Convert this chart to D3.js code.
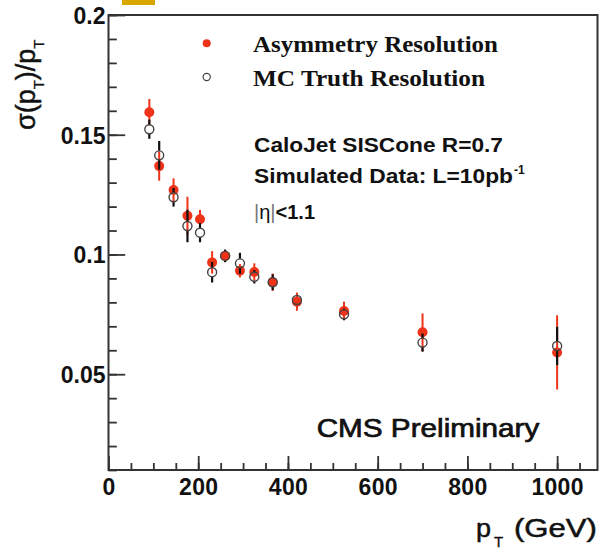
<!DOCTYPE html>
<html>
<head>
<meta charset="utf-8">
<script src="https://cdn.jsdelivr.net/npm/d3@7"></script>
<style>
  html, body { margin: 0; padding: 0; background: #fff; }
  svg { display: block; }
</style>
</head>
<body>
<svg id="chart" width="599" height="553"></svg>
<script>
// ---- data ----
const ptValues = [91, 113, 145, 176, 204, 231, 260, 293, 325, 366, 420, 525, 700, 1000];
const asymRes  = [0.1594, 0.1369, 0.1269, 0.1162, 0.1147, 0.0967, 0.0994, 0.0932, 0.0927, 0.0884, 0.0803, 0.0764, 0.0675, 0.0591];
const asymErr  = [0.0055, 0.0061, 0.0049, 0.0079, 0.0039, 0.0047, 0.0026, 0.0028, 0.0036, 0.0036, 0.0038, 0.0039, 0.0079, 0.0155];
const mcRes    = [0.1523, 0.1414, 0.1239, 0.1119, 0.1091, 0.0926, 0.0994, 0.0963, 0.0907, 0.0884, 0.0810, 0.0750, 0.0632, 0.0618];
const mcErr    = [0.0040, 0.0060, 0.0039, 0.0068, 0.0040, 0.0043, 0.0026, 0.0044, 0.0028, 0.0033, 0.0020, 0.0024, 0.0038, 0.0080];
const xMajorTicks = [0, 200, 400, 600, 800, 1000];
const yMajorTicks = [0.05, 0.1, 0.15, 0.2];
const yTickLabels = ["0.05", "0.1", "0.15", "0.2"];
const legendLabels = ["Asymmetry Resolution", "MC Truth Resolution"];

const svg = d3.select("#chart");
const L = 108.5, R = 597.5, T = 15, B = 470;
const x = d3.scaleLinear().domain([0, 1090]).range([L, R]);
const y = d3.scaleLinear().domain([0.01, 0.2]).range([B, T]);

const RED = "#ee3318";
const FRAME = "#333";
const INK = "#111";
const sans = "'Liberation Sans', Arial, Helvetica, sans-serif";
const serif = "'Liberation Serif', 'Times New Roman', serif";

// gold strip at the top
svg.append("rect").attr("x", 122).attr("y", 0).attr("width", 33).attr("height", 5).attr("fill", "#d9a600");

// ---- axes ----
const xMinor = d3.range(0, 1090, 50);
const yMinor = d3.range(1, 21).map(d => d / 100);

const gx = svg.append("g").attr("transform", `translate(0,${B})`);
gx.call(d3.axisBottom(x).tickValues(xMinor).tickSize(-7).tickFormat(""));
gx.call(g => g.select(".domain").remove());
const gx2 = svg.append("g").attr("transform", `translate(0,${B})`);
gx2.call(d3.axisBottom(x).tickValues(xMajorTicks).tickSize(-14).tickPadding(8.5).tickFormat(d3.format("d")));
gx2.call(g => g.select(".domain").remove());
gx2.selectAll("text").attr("font-family", sans).attr("font-weight", "bold")
   .attr("font-size", 23).attr("fill", INK).attr("letter-spacing", 0.3);

const gy = svg.append("g").attr("transform", `translate(${L},0)`);
gy.call(d3.axisLeft(y).tickValues(yMinor).tickSize(-8.3).tickFormat(""));
gy.call(g => g.select(".domain").remove());
const gy2 = svg.append("g").attr("transform", `translate(${L},0)`);
gy2.call(d3.axisLeft(y).tickValues(yMajorTicks).tickSize(-16.7).tickPadding(3)
   .tickFormat((d, i) => yTickLabels[i]));
gy2.call(g => g.select(".domain").remove());
gy2.selectAll("text").attr("font-family", sans).attr("font-weight", "bold")
   .attr("font-size", 23).attr("fill", INK).attr("dy", "0.36em");

svg.selectAll(".tick line").attr("stroke", FRAME).attr("stroke-width", 1.8);

// frame
svg.append("rect").attr("x", L).attr("y", T).attr("width", R - L).attr("height", B - T)
   .attr("fill", "none").attr("stroke", FRAME).attr("stroke-width", 2);

// ---- data marks ----
const idx = d3.range(ptValues.length);
const plot = svg.append("g");
const rOpen = 4.5, rFill = 5;

plot.selectAll(".errA").data(idx).join("line")
  .attr("x1", i => x(ptValues[i])).attr("x2", i => x(ptValues[i]))
  .attr("y1", i => y(asymRes[i] + asymErr[i])).attr("y2", i => y(asymRes[i] - asymErr[i]))
  .attr("stroke", RED).attr("stroke-width", 2);
plot.selectAll(".mkA").data(idx).join("circle")
  .attr("cx", i => x(ptValues[i])).attr("cy", i => y(asymRes[i])).attr("r", rFill)
  .attr("fill", RED);
idx.forEach(i => {
  const cx = x(ptValues[i]), cy = y(mcRes[i]);
  const top = y(mcRes[i] + mcErr[i]), bot = y(mcRes[i] - mcErr[i]);
  if (cy - rOpen > top) plot.append("line").attr("x1", cx).attr("x2", cx).attr("y1", top).attr("y2", cy - rOpen)
      .attr("stroke", INK).attr("stroke-width", 2.2);
  if (bot > cy + rOpen) plot.append("line").attr("x1", cx).attr("x2", cx).attr("y1", cy + rOpen).attr("y2", bot)
      .attr("stroke", INK).attr("stroke-width", 2.2);
});
plot.selectAll(".mkB").data(idx).join("circle")
  .attr("cx", i => x(ptValues[i])).attr("cy", i => y(mcRes[i])).attr("r", rOpen)
  .attr("fill", "none").attr("stroke", "#444").attr("stroke-width", 1.4);

// ---- legend ----
svg.append("circle").attr("cx", 206.7).attr("cy", 43.3).attr("r", 4).attr("fill", RED);
svg.append("circle").attr("cx", 206.7).attr("cy", 77).attr("r", 3.6).attr("fill", "none")
   .attr("stroke", "#444").attr("stroke-width", 1.2);
svg.append("text").attr("x", 253).attr("y", 51.7).attr("font-family", serif).attr("font-weight", "bold")
   .attr("font-size", 24).attr("fill", INK).attr("textLength", 245).attr("lengthAdjust", "spacingAndGlyphs")
   .text(legendLabels[0]);
svg.append("text").attr("x", 253).attr("y", 85.7).attr("font-family", serif).attr("font-weight", "bold")
   .attr("font-size", 24).attr("fill", INK).attr("textLength", 232).attr("lengthAdjust", "spacingAndGlyphs")
   .text(legendLabels[1]);

// ---- annotations ----
svg.append("text").attr("x", 254).attr("y", 151.7).attr("font-family", sans).attr("font-weight", "bold")
   .attr("font-size", 20).attr("fill", INK).attr("textLength", 249).attr("lengthAdjust", "spacingAndGlyphs")
   .text("CaloJet SISCone R=0.7");
svg.append("text").attr("x", 254).attr("y", 183.3).attr("font-family", sans).attr("font-weight", "bold")
   .attr("font-size", 20).attr("fill", INK).attr("textLength", 259).attr("lengthAdjust", "spacingAndGlyphs")
   .text("Simulated Data: L=10pb");
svg.append("text").attr("x", 514).attr("y", 174).attr("font-family", sans).attr("font-weight", "bold")
   .attr("font-size", 12).attr("fill", INK).text("-1");
const eta = svg.append("text").attr("x", 254).attr("y", 218.5).attr("font-family", sans)
   .attr("font-size", 20).attr("fill", INK);
eta.append("tspan").attr("fill", "#777").attr("font-weight", "normal").text("|");
eta.append("tspan").attr("font-weight", "normal").text("η");
eta.append("tspan").attr("fill", "#777").attr("font-weight", "normal").text("|");
eta.append("tspan").attr("font-weight", "bold").text("<1.1");

svg.append("text").attr("x", 316.7).attr("y", 436.7).attr("font-family", sans)
   .attr("font-size", 25.5).attr("fill", INK).attr("stroke", INK).attr("stroke-width", 0.7)
   .attr("textLength", 222.6).attr("lengthAdjust", "spacingAndGlyphs")
   .text("CMS Preliminary");

// ---- axis titles ----
const titleStyle = s => s.attr("font-family", sans).attr("fill", INK).attr("stroke", INK).attr("stroke-width", 0.5);
svg.append("text").attr("x", 476).attr("y", 536.7).attr("font-size", 26).call(titleStyle)
   .attr("textLength", 15).attr("lengthAdjust", "spacingAndGlyphs").text("p");
svg.append("text").attr("x", 494).attr("y", 547).attr("font-size", 15).call(titleStyle)
   .attr("stroke-width", 0.3).text("T");
svg.append("text").attr("x", 514).attr("y", 536.7).attr("font-size", 25).call(titleStyle)
   .attr("textLength", 83).attr("lengthAdjust", "spacingAndGlyphs").text("(GeV)");

const yt = svg.append("text").attr("transform", "translate(35,130) rotate(-90)")
   .attr("font-size", 27).call(titleStyle);
yt.append("tspan").text("σ(p");
yt.append("tspan").attr("font-size", 15).attr("dy", 9).attr("stroke-width", 0.3).text("T");
yt.append("tspan").attr("dy", -9).text(")/p");
yt.append("tspan").attr("font-size", 15).attr("dy", 9).attr("stroke-width", 0.3).text("T");
</script>
</body>
</html>
